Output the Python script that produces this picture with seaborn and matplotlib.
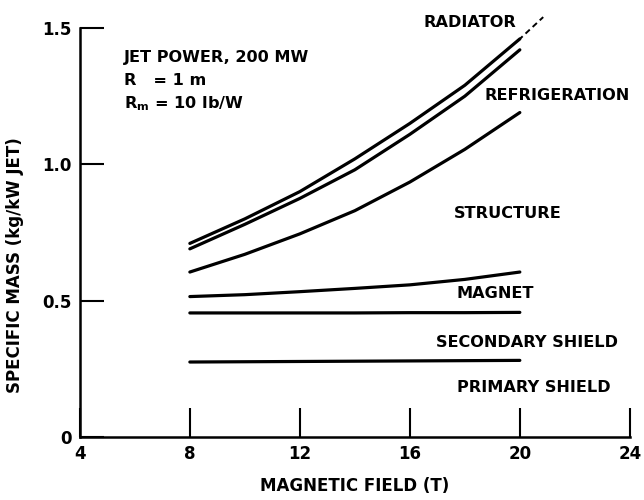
import numpy as np
import pandas as pd
import matplotlib
matplotlib.use("Agg")
import matplotlib.pyplot as plt
import seaborn as sns

# magnetic field (T)
field = [8, 10, 12, 14, 16, 18, 20]

# cumulative specific mass (kg/kW jet)
radiator = [0.71, 0.80, 0.90, 1.02, 1.15, 1.29, 1.46]
refrigeration = [0.69, 0.78, 0.875, 0.98, 1.11, 1.25, 1.42]
structure = [0.605, 0.67, 0.745, 0.83, 0.935, 1.055, 1.19]
magnet = [0.515, 0.522, 0.533, 0.545, 0.558, 0.578, 0.605]
secondary_shield = [0.455, 0.455, 0.455, 0.455, 0.456, 0.456, 0.457]
primary_shield = [0.275, 0.276, 0.277, 0.278, 0.279, 0.28, 0.281]

# dashed extension of the radiator curve up to its label
radiator_ext_x = [20, 20.85]
radiator_ext_y = [1.46, 1.54]

labels = ["RADIATOR", "REFRIGERATION", "STRUCTURE", "MAGNET",
          "SECONDARY SHIELD", "PRIMARY SHIELD"]
label_x = [16.5, 18.7, 17.6, 17.7, 16.95, 17.7]
label_y = [1.52, 1.253, 0.82, 0.527, 0.348, 0.183]


def main():
    sns.set_theme(style="ticks")
    plt.rcParams['font.family'] = ['DejaVu Sans']
    plt.rcParams['font.weight'] = 'bold'
    plt.rcParams['text.color'] = 'black'
    plt.rcParams['axes.labelcolor'] = 'black'

    series = {
        'radiator': radiator,
        'refrigeration': refrigeration,
        'structure': structure,
        'magnet': magnet,
        'secondary': secondary_shield,
        'primary': primary_shield,
    }
    df = pd.DataFrame([
        {'field': f, 'mass': m, 'curve': name}
        for name, vals in series.items()
        for f, m in zip(field, vals)
    ])

    fig = plt.figure(figsize=(6.44, 5.0), dpi=100)
    ax = fig.add_axes([0.124, 0.126, 0.854, 0.818])

    sns.lineplot(data=df, x='field', y='mass', hue='curve', units='curve',
                 estimator=None, palette=['black'] * len(series),
                 linewidth=2.3, legend=False, ax=ax)
    sns.lineplot(x=radiator_ext_x, y=radiator_ext_y, color='black',
                 linewidth=1.4, linestyle=(1, (3, 2)), clip_on=False, ax=ax)

    fs = 11.6
    for txt, x, y in zip(labels, label_x, label_y):
        ax.text(x, y, txt, fontsize=fs, fontweight='bold', ha='left', va='center',
                color='black')

    ax.text(5.6, 1.392, "JET POWER, 200 MW", fontsize=fs, fontweight='bold',
            va='center', color='black')
    ax.text(5.6, 1.308, "R   = 1 m", fontsize=fs, fontweight='bold',
            va='center', color='black')
    ax.text(5.6, 1.223, r"R$_\mathregular{m}$ = 10 lb/W", fontsize=fs,
            fontweight='bold', va='center', color='black')

    ax.set_xlim(4, 24)
    ax.set_ylim(0, 1.5)
    ax.set_xticks([4, 8, 12, 16, 20, 24])
    ax.set_yticks([0, 0.5, 1.0, 1.5])
    ax.set_yticklabels(['0', '0.5', '1.0', '1.5'])

    ax.spines['top'].set_visible(False)
    ax.spines['right'].set_visible(False)
    ax.spines['left'].set_linewidth(1.8)
    ax.spines['bottom'].set_linewidth(1.8)
    ax.spines['left'].set_color('black')
    ax.spines['bottom'].set_color('black')
    ax.tick_params(axis='x', direction='in', length=21, width=1.5, pad=6,
                   labelsize=12, colors='black')
    ax.tick_params(axis='y', direction='in', length=17, width=1.5, pad=6,
                   labelsize=12, colors='black')
    for lab in ax.get_xticklabels() + ax.get_yticklabels():
        lab.set_fontweight('bold')

    ax.set_xlabel("MAGNETIC FIELD (T)", fontsize=12, fontweight='bold', labelpad=10)
    ax.set_ylabel("SPECIFIC MASS (kg/kW JET)", fontsize=12, fontweight='bold')
    ax.yaxis.set_label_coords(-0.102, 0.42)

    fig.savefig("out.png", dpi=100)


if __name__ == "__main__":
    main()
